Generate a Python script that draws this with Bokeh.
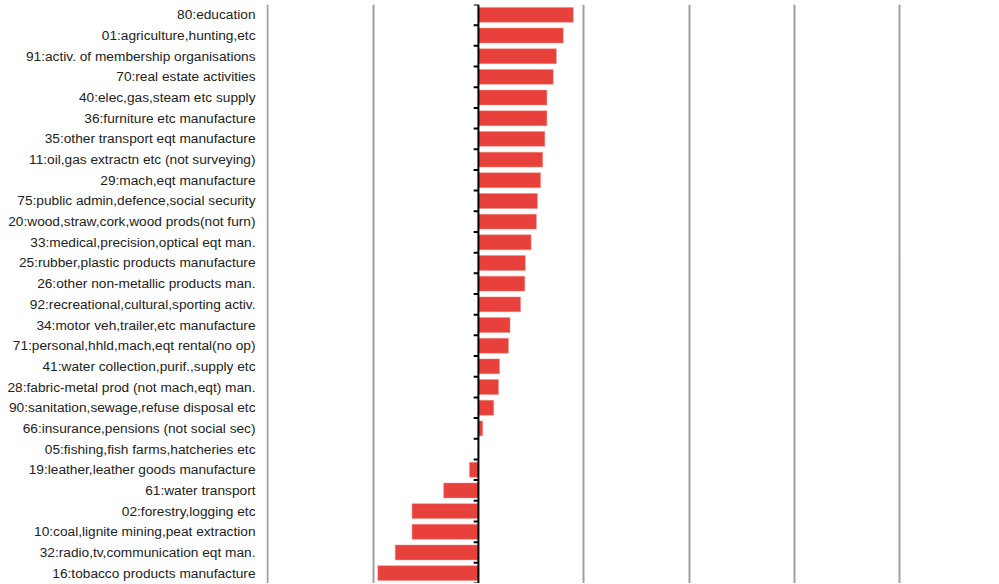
from bokeh.plotting import figure
from bokeh.models import Range1d, FixedTicker, Span, ColumnDataSource
from bokeh.embed import file_html
from bokeh.resources import INLINE

categories = [
    "80:education",
    "01:agriculture,hunting,etc",
    "91:activ. of membership organisations",
    "70:real estate activities",
    "40:elec,gas,steam etc supply",
    "36:furniture etc manufacture",
    "35:other transport eqt manufacture",
    "11:oil,gas extractn etc (not surveying)",
    "29:mach,eqt manufacture",
    "75:public admin,defence,social security",
    "20:wood,straw,cork,wood prods(not furn)",
    "33:medical,precision,optical eqt man.",
    "25:rubber,plastic products manufacture",
    "26:other non-metallic products man.",
    "92:recreational,cultural,sporting activ.",
    "34:motor veh,trailer,etc manufacture",
    "71:personal,hhld,mach,eqt rental(no op)",
    "41:water collection,purif.,supply etc",
    "28:fabric-metal prod (not mach,eqt) man.",
    "90:sanitation,sewage,refuse disposal etc",
    "66:insurance,pensions (not social sec)",
    "05:fishing,fish farms,hatcheries etc",
    "19:leather,leather goods manufacture",
    "61:water transport",
    "02:forestry,logging etc",
    "10:coal,lignite mining,peat extraction",
    "32:radio,tv,communication eqt man.",
    "16:tobacco products manufacture",
]
values = [0.90, 0.805, 0.74, 0.71, 0.65, 0.65, 0.63, 0.61, 0.59, 0.56,
          0.55, 0.50, 0.445, 0.44, 0.40, 0.30, 0.285, 0.20, 0.19, 0.145,
          0.04, 0.0, -0.085, -0.33, -0.63, -0.63, -0.79, -0.955]
grid_ticks = [-2, -1, 1, 2, 3, 4]

n = len(categories)
pos = list(range(n))
src = ColumnDataSource(dict(y=pos, v=values))

p = figure(width=995, height=583, output_backend="svg", toolbar_location=None,
           x_range=Range1d(-2.012, 4.909), y_range=Range1d(n - 0.5, -0.5),
           min_border_top=4, min_border_bottom=0, min_border_right=0, min_border_left=266)
p.outline_line_color = None
p.background_fill_color = "white"

p.hbar(y="y", right="v", left=0, height=0.72, source=src,
       fill_color="#e8403a", line_color="#f08a84", line_width=0.5)

# grid
p.xaxis.visible = False
p.xgrid.ticker = FixedTicker(ticks=grid_ticks)
p.xgrid.grid_line_color = "#a0a0a0"
p.xgrid.grid_line_width = 2
p.ygrid.grid_line_color = None

# category labels on left
p.yaxis.ticker = FixedTicker(ticks=pos)
p.yaxis.major_label_overrides = {i: c for i, c in zip(pos, categories)}
p.yaxis.axis_line_color = None
p.yaxis.major_tick_line_color = None
p.yaxis.minor_tick_line_color = None
p.yaxis.major_tick_out = 0
p.yaxis.major_label_standoff = 11
p.yaxis.major_label_text_font = "Liberation Sans"
p.yaxis.major_label_text_font_size = "13.7px"
p.yaxis.major_label_text_color = "#222222"

# zero axis line with ticks at category boundaries
p.add_layout(Span(location=0, dimension="height", line_color="black", line_width=2))
bounds = [i - 0.5 for i in range(n + 1)]
p.segment(x0=[-0.045] * len(bounds), x1=[0] * len(bounds), y0=bounds, y1=bounds,
          line_color="black", line_width=2)

open("out.html", "w").write(file_html(p, INLINE))
